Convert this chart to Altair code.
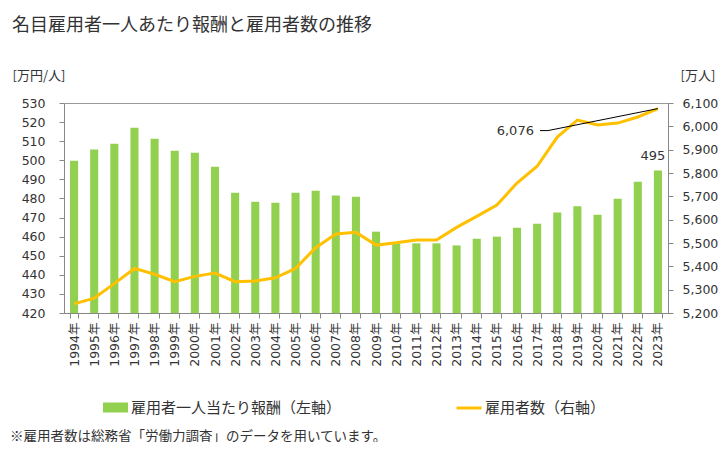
import altair as alt
import pandas as pd

years = list(range(1994, 2024))
year_labels = [f"{y}年" for y in years]
pay = [499.8, 505.6, 508.7, 517.1, 511.3, 505.0, 504.0, 496.6, 483.0, 478.3,
       477.8, 483.0, 484.1, 481.5, 480.9, 462.6, 457.0, 456.5, 456.5, 455.4,
       458.9, 460.0, 464.7, 466.8, 472.6, 475.9, 471.5, 479.9, 488.8, 494.6]
emp = [5239, 5264, 5326, 5391, 5366, 5334, 5357, 5371, 5334, 5337,
       5351, 5391, 5480, 5539, 5546, 5491, 5501, 5513, 5513, 5567,
       5614, 5663, 5757, 5829, 5954, 6027, 6006, 6014, 6040, 6076]
pay_label = "495"
emp_label = "6,076"

title = "名目雇用者一人あたり報酬と雇用者数の推移"
s_pay = "雇用者一人当たり報酬（左軸）"
s_emp = "雇用者数（右軸）"
left_unit = "[万円/人]"
right_unit = "[万人]"
note = "※雇用者数は総務省「労働力調査」のデータを用いています。"

GREEN = "#92D050"
ORANGE = "#FFC000"
TXT = "#333333"
CJK = "Noto Sans CJK JP"
NUM = "DejaVu Sans, Noto Sans CJK JP"

df = pd.DataFrame({"year": year_labels, "pay": pay, "emp": emp,
                   "s1": s_pay, "s2": s_emp})
last = df.iloc[[-1]].copy()
last["pay_t"] = pay_label
last["emp_t"] = emp_label

xscale = alt.Scale(paddingInner=0.6, paddingOuter=0.3)
xaxis = alt.Axis(labelAngle=-90, labelFont=NUM, labelFontSize=12.5,
                 labelColor=TXT, tickBand="extent", tickSize=5,
                 labelPadding=4, domainColor="#888", tickColor="#888",
                 zindex=1)


def xenc(**kw):
    return alt.X("year:N", sort=year_labels, scale=xscale, title=None, axis=xaxis, **kw)


yl_scale = alt.Scale(domain=[420, 530], zero=False, nice=False)
yr_scale = alt.Scale(domain=[5200, 6100], zero=False, nice=False)

bars = alt.Chart(df).mark_bar(clip=True).encode(
    x=xenc(),
    y=alt.Y("pay:Q", scale=yl_scale,
            axis=alt.Axis(orient="left", values=list(range(420, 531, 10)),
                          grid=False, tickSize=5, labelPadding=14,
                          labelFont=NUM, labelFontSize=12.5, labelColor=TXT,
                          domainColor="#888", tickColor="#888",
                          title=left_unit, titleAngle=0, titleX=-52, titleY=-28,
                          titleAlign="left", titleBaseline="middle",
                          titleFont=CJK, titleFontSize=13, titleFontWeight="normal",
                          titleColor=TXT)),
    y2=alt.datum(420),
    color=alt.Color("s1:N", scale=alt.Scale(domain=[s_pay], range=[GREEN]),
                    legend=alt.Legend(title=None, orient="none", legendX=38, legendY=291,
                                      symbolType="M-1,-0.4H1V0.4H-1Z", symbolSize=625,
                                      symbolOpacity=1, labelFont=CJK, labelFontSize=15,
                                      labelColor=TXT, labelOffset=2, padding=0,
                                      labelLimit=0)),
)

pay_text = alt.Chart(last).mark_text(
    dx=-5, dy=-8, baseline="bottom", align="center", font=NUM, fontSize=13, color=TXT
).encode(x=xenc(), y=alt.Y("pay:Q", scale=yl_scale, axis=None), text="pay_t:N")

line = alt.Chart(df).mark_line(strokeWidth=3).encode(
    x=xenc(),
    y=alt.Y("emp:Q", scale=yr_scale,
            axis=alt.Axis(orient="right", values=list(range(5200, 6101, 100)),
                          labelExpr="format(datum.value, ',')",
                          grid=False, tickSize=5, labelPadding=9,
                          labelFont=NUM, labelFontSize=12.5, labelColor=TXT,
                          domainColor="#888", tickColor="#888",
                          title=right_unit, titleAngle=0, titleX=12, titleY=-28,
                          titleAlign="left", titleBaseline="middle",
                          titleFont=CJK, titleFontSize=13, titleFontWeight="normal",
                          titleColor=TXT)),
    stroke=alt.Stroke("s2:N", scale=alt.Scale(domain=[s_emp], range=[ORANGE]),
                      legend=alt.Legend(title=None, orient="none", legendX=391, legendY=291,
                                        symbolType="stroke", symbolSize=625,
                                        symbolStrokeWidth=3, labelFont=CJK,
                                        labelFontSize=15, labelColor=TXT,
                                        labelOffset=2, padding=0, labelLimit=0)),
)

leader = alt.Chart(last).mark_rule(color="black", strokeWidth=1,
                                   x2Offset=-110, y2Offset=22).encode(
    x=xenc(bandPosition=0.5),
    x2=alt.X2("year:N", bandPosition=0.5),
    y=alt.Y("emp:Q", scale=yr_scale, axis=None),
    y2="emp:Q",
)
leader_h = alt.Chart(last).mark_rule(color="black", strokeWidth=1,
                                     xOffset=-118, x2Offset=-110,
                                     yOffset=22, y2Offset=22).encode(
    x=xenc(bandPosition=0.5),
    x2=alt.X2("year:N", bandPosition=0.5),
    y=alt.Y("emp:Q", scale=yr_scale, axis=None),
    y2="emp:Q",
)
emp_text = alt.Chart(last).mark_text(
    dx=-124, dy=22, align="right", baseline="middle", font=NUM, fontSize=13, color=TXT
).encode(x=xenc(), y=alt.Y("emp:Q", scale=yr_scale, axis=None), text="emp_t:N")

note_layer = alt.Chart(pd.DataFrame({"t": [note]})).mark_text(
    align="left", baseline="middle", font=CJK, fontSize=13.5, color=TXT
).encode(x=alt.value(-54), y=alt.value(334), text="t:N")

chart = alt.layer(bars, pay_text, line, leader, leader_h, emp_text, note_layer).resolve_scale(
    y="independent"
).properties(
    width=604, height=210,
    title=alt.TitleParams(title, anchor="start", frame="group", dx=-52, offset=34,
                          font=CJK, fontSize=18, fontWeight="normal", color=TXT),
    autosize=alt.AutoSizeParams(type="none"),
    padding={"left": 56, "top": 95, "right": 52, "bottom": 129},
).configure_view(stroke="#999")

chart.save("out.html", embed_options={"renderer": "svg", "actions": False})
